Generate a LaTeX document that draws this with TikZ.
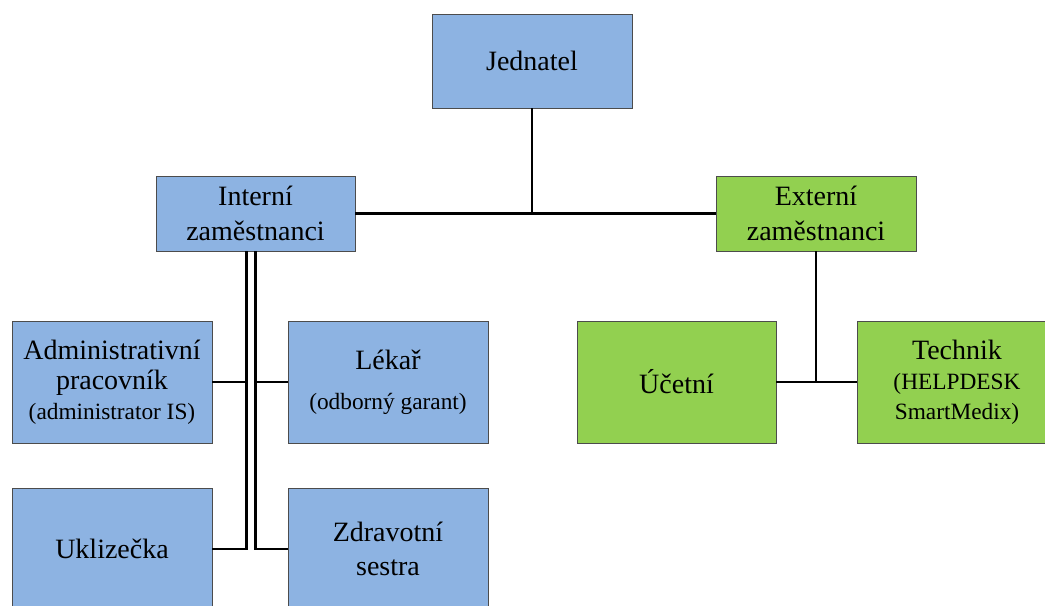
\documentclass[tikz,border=0pt]{standalone}
\usepackage{fontspec}
\setmainfont{Liberation Serif}
\definecolor{bl}{HTML}{8DB3E2}
\definecolor{gr}{HTML}{92D050}
\newcommand\smf{\fontsize{17.5}{22.5}\selectfont}
\begin{document}
\begin{tikzpicture}[x=0.75pt,y=-0.75pt,
  box/.style={draw=black!70, line width=0.6pt, align=center, inner sep=0pt, text=black,
              minimum width=150pt, font=\fontsize{21}{26}\selectfont},
  tight/.style={font=\fontsize{21}{22.5}\selectfont},
  bbox/.style={box, fill=bl},
  gbox/.style={box, fill=gr},
  conn/.style={line width=1.7pt, black}]
\useasboundingbox (0,0) rectangle (1045,606);
\begin{scope}
\clip (0,0) rectangle (1045,606);
\node[bbox, minimum height=70.5pt] (jed) at (532,61) {Jednatel};
\node[bbox, minimum width=149.25pt, minimum height=56.25pt] (int) at (255.5,213.5) {Interní\\zaměstnanci};
\node[gbox, minimum height=56.25pt] (ext) at (816,213.5) {Externí\\zaměstnanci};
\node[bbox, tight, minimum height=91.5pt] (adm) at (112,382) {Administrativní\\pracovník\\{\smf (administrator IS)}};
\node[bbox, minimum height=91.5pt] (lek) at (388,382) {Lékař\\[4pt]{\smf (odborný garant)}};
\node[bbox, minimum height=91.5pt] (ukl) at (112,549) {Uklizečka};
\node[bbox, minimum height=91.5pt] (zdr) at (388,549) {Zdravotní\\sestra};
\node[gbox, minimum width=149.25pt, minimum height=91.5pt] (uce) at (676.5,382) {Účetní};
\node[gbox, tight, minimum height=91.5pt] (tec) at (957,382) {Technik\\{\smf (HELPDESK}\\{\smf SmartMedix)}};
\end{scope}
\draw[conn] (jed.south) -- (jed.south |- int.east);
\draw[conn] (int.east) -- (ext.west);
\draw[conn] ([xshift=-6.75pt]int.south) |- (ukl.east);
\draw[conn] ([xshift=-6.75pt]int.south |- adm.east) -- (adm.east);
\draw[conn] (int.south) |- (zdr.west);
\draw[conn] (int.south |- lek.west) -- (lek.west);
\draw[conn] (ext.south) |- (uce.east);
\draw[conn] (uce.east) -- (tec.west);
\end{tikzpicture}
\end{document}
